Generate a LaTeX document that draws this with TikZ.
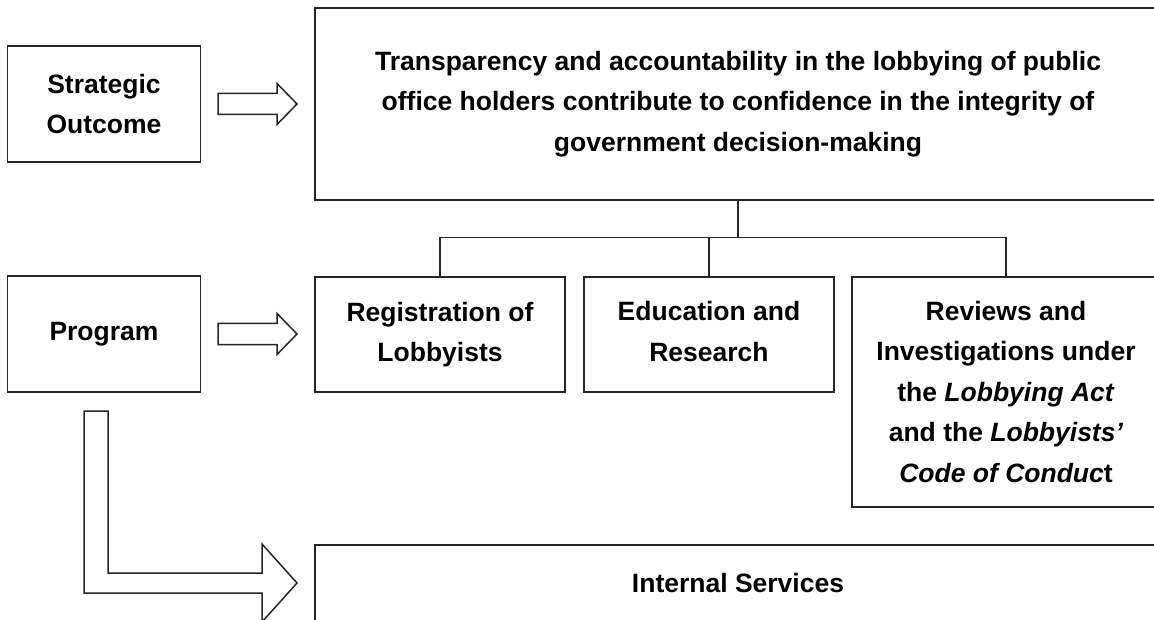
\documentclass[tikz,border=0pt]{standalone}
\usepackage{fontspec}
\setmainfont{Liberation Sans}
\usetikzlibrary{positioning}

\tikzset{
  box/.style={rectangle,draw=black!85,line width=1.6pt,align=center,inner sep=0pt,
    font=\bfseries\fontsize{26.5}{40.5}\selectfont},
  hollow/.style={draw=black!85,line width=1.5pt,fill=white,line join=miter},
  link/.style={draw=black!85,line width=1.6pt}
}
\newcommand{\blockarrow}[1]{%
  \draw[hollow] (218,#1-10.5) -- (277,#1-10.5) -- (277,#1-20.5) -- (297,#1)
    -- (277,#1+20.5) -- (277,#1+10.5) -- (218,#1+10.5) -- cycle;}

\begin{document}
\begin{tikzpicture}[x=1pt,y=-1pt]
\useasboundingbox (0,0) rectangle (1154,620);
\clip (0,0) rectangle (1154,620);
\fill[white] (0,0) rectangle (1154,620);

\node at (104,104)[box,minimum width=193pt,minimum height=116pt](so){Strategic\\Outcome};
\node at (104,334)[box,minimum width=193pt,minimum height=116pt](prog){Program};

\node at (738,104)[box,minimum width=846pt,minimum height=192pt](goal){Transparency and accountability in the lobbying of public\\office holders contribute to confidence in the integrity of\\government decision-making};

\node at (440,334.5)[box,minimum width=250pt,minimum height=115pt](reg){Registration of\\Lobbyists};
\node at (709,334.5)[box,minimum width=250pt,minimum height=115pt,text depth=6pt](edu){Education and\\Research};
\node at (1006,392)[box,minimum width=308pt,minimum height=230pt](rev){Reviews and\\Investigations under\\the \textit{Lobbying Act}\\and the \textit{Lobbyists’}\\\textit{Code of Conduc}t};

\node at (738,583)[box,minimum width=846pt,minimum height=76pt](int){Internal Services};

\coordinate (bus) at (738,237.5);
\draw[link] (goal.south) -- (bus);
\draw[link] (reg.north) |- (bus) -| (rev.north);
\draw[link] (edu.north) -- (edu.north |- bus);

\blockarrow{104}
\blockarrow{334}
\draw[hollow] (84,411) -- (108,411) -- (108,573) -- (262,573) -- (262,544) -- (297,583)
  -- (262,622) -- (262,593) -- (84,593) -- cycle;
\end{tikzpicture}
\end{document}
